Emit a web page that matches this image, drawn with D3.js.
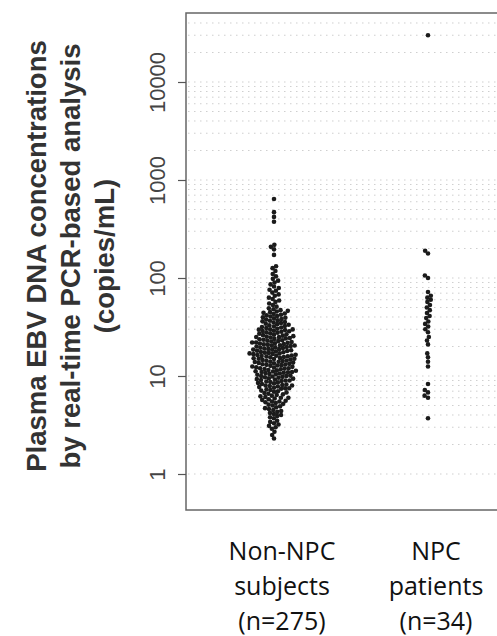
<!DOCTYPE html>
<html>
<head>
<meta charset="utf-8">
<script src="https://cdn.jsdelivr.net/npm/d3@7"></script>
<style>
  body { margin: 0; background: #fff; }
</style>
</head>
<body>
<script>
// categories and labels
var groups = ["Non-NPC", "NPC"];
var groupLabels = [["Non-NPC", "subjects", "(n=275)"], ["NPC", "patients", "(n=34)"]];
var titleLines = ["Plasma EBV DNA concentrations", "by real-time PCR-based analysis", "(copies/mL)"];
var yTicks = [1, 10, 100, 1000, 10000];

// plasma EBV DNA, non-NPC subjects (copies/mL)
var nonNpc = [
  640, 470, 420, 375, 218, 208, 196, 172, 132, 126, 118, 110, 104, 98, 94, 90, 86, 82, 79, 76,
  74, 71, 68, 66, 63, 61, 59, 57, 55, 53, 51, 49, 48,
  47.0, 46.2, 45.5, 44.8, 44.1, 43.5, 42.9, 42.2, 41.6, 41.0,
  40.4, 39.8, 39.3, 38.7, 38.2, 37.7, 37.1, 36.6, 36.1, 35.6,
  35.2, 34.7, 34.2, 33.8, 33.3, 32.9, 32.4, 32.0, 31.6, 31.2,
  30.8, 30.4, 30.0, 29.9, 29.7,
  29.4, 29.0, 28.6, 28.3, 28.0, 27.6, 27.3, 27.0, 26.7, 26.4,
  26.1, 25.8, 25.5, 25.2, 25.0, 24.7, 24.4, 24.2, 23.9, 23.7,
  23.4, 23.2, 22.9, 22.7, 22.5, 22.2, 22.0, 21.8, 21.6, 21.4,
  21.2, 21.0, 20.8, 20.6, 20.4, 20.2, 20.0, 19.8, 19.6, 19.4,
  19.3, 19.1, 18.9, 18.8, 18.6, 18.5, 28.8, 24.9, 22.0, 20.5,
  18.3, 18.1, 18.0, 17.8, 17.6, 17.5, 17.3, 17.2, 17.0, 16.8,
  16.7, 16.5, 16.4, 16.2, 16.1, 15.9, 15.8, 15.6, 15.5, 15.3,
  15.2, 15.0, 14.9, 14.7, 14.6, 14.4, 14.3, 14.2, 14.0, 13.9,
  13.7, 13.6, 13.5, 13.3, 13.2, 13.1, 12.9, 12.8, 12.7, 12.5,
  12.4, 12.3, 12.2, 12.0, 11.9, 11.8, 11.7, 11.5, 11.4, 11.3,
  11.2, 11.1, 11.0, 10.9, 10.8, 10.7, 10.6, 10.5, 10.4, 10.3,
  16.0, 13.0, 17.0, 15.0, 12.0, 14.0, 11.0,
  10.1, 10.0, 9.9, 9.8, 9.7, 9.6, 9.5, 9.4, 9.3, 9.2,
  9.1, 9.0, 8.9, 8.8, 8.7, 8.6, 8.5, 8.4, 8.3, 8.2,
  8.1, 8.0, 7.9, 7.8, 7.7, 7.6, 7.5, 7.4, 7.3, 7.2,
  7.1, 7.0, 6.9, 6.8, 6.7, 6.6, 6.5, 6.4, 9.0, 8.0,
  7.5, 10.0,
  6.3, 6.2, 6.1, 6.0, 5.9, 5.8, 5.7, 5.6, 5.5, 5.4,
  5.3, 5.2, 5.1, 5.0, 4.9, 4.8, 4.7, 4.6, 4.5, 6.0, 5.5,
  4.4, 4.3, 4.2, 4.1, 4.0, 3.9, 3.8, 3.7, 3.5, 3.4, 3.3, 3.2,
  3.1, 3.0, 2.9, 2.7, 2.5, 2.3
];

// plasma EBV DNA, NPC patients (copies/mL)
var npc = [
  30000, 190, 178, 106, 100, 72, 66, 63, 60,
  57, 53, 50, 47, 44, 41, 39, 36, 34, 32, 30, 28,
  25, 23, 21, 17, 15.5, 14, 12.5,
  8.3, 7.2, 6.8, 6.3, 6.0, 3.7
];

var width = 497, height = 636;
var frame = { left: 186, top: 13, right: 540, bottom: 510 };

var svg = d3.select("body").append("svg")
  .attr("width", width)
  .attr("height", height);

// log scale: one decade ~98px
var y = d3.scaleLog()
  .domain([1, 10000])
  .range([474, 82]);

var x = d3.scalePoint()
  .domain(groups)
  .range([274, 428]);

// dotted grid at 1..9 x 10^k
var gridVals = [];
yTicks.forEach(function (t) {
  d3.range(1, 10).forEach(function (m) {
    var v = m * t;
    if (y(v) > frame.top + 2) gridVals.push(v);
  });
});

svg.append("g").selectAll("line")
  .data(gridVals)
  .enter()
  .append("line")
  .attr("x1", frame.left + 2)
  .attr("x2", width)
  .attr("y1", d => y(d))
  .attr("y2", d => y(d))
  .attr("stroke", "#cfcfcf")
  .attr("stroke-width", 1)
  .attr("stroke-dasharray", "1.5,4.5");

// frame
svg.append("rect")
  .attr("x", frame.left)
  .attr("y", frame.top)
  .attr("width", frame.right - frame.left)
  .attr("height", frame.bottom - frame.top)
  .attr("fill", "none")
  .attr("stroke", "#666")
  .attr("stroke-width", 1.5);

// left axis
var leftAxis = d3.axisLeft(y)
  .tickValues(yTicks)
  .tickFormat(d3.format("d"))
  .tickSize(8)
  .tickSizeOuter(0);

var axisG = svg.append("g")
  .attr("transform", `translate(${frame.left}, 0)`)
  .call(leftAxis);
axisG.select(".domain").remove();
axisG.selectAll(".tick line").attr("stroke", "#555").attr("stroke-width", 1.2);
axisG.selectAll(".tick text")
  .attr("font-family", "Liberation Sans, Arial, sans-serif")
  .attr("font-size", "22px")
  .attr("fill", "#444")
  .attr("text-anchor", "middle")
  .attr("dy", null)
  .attr("x", null)
  .attr("transform", "translate(-21, 0) rotate(-90)");

// y title, three rotated lines
var titleG = svg.append("g")
  .attr("transform", "translate(0, 256) rotate(-90)");
titleG.selectAll("text")
  .data(titleLines)
  .enter()
  .append("text")
  .attr("x", 0)
  .attr("y", (d, i) => 46 + i * 34)
  .attr("text-anchor", "middle")
  .attr("font-family", "Liberation Sans, Arial, sans-serif")
  .attr("font-weight", "bold")
  .attr("font-size", "27.5px")
  .attr("fill", "#333")
  .text(d => d);

// beeswarm: place each point (in value order) as close to the centre as it can go
function swarm(values, r) {
  var pts = values.slice().sort((a, b) => a - b).map(v => ({ v: v, y: y(v), dx: 0 }));
  var placed = [];
  pts.forEach(function (p) {
    var near = placed.filter(q => Math.abs(q.y - p.y) < 2 * r);
    var cands = [0];
    near.forEach(function (q) {
      var dx = Math.sqrt(4 * r * r - (q.y - p.y) * (q.y - p.y));
      cands.push(q.dx - dx, q.dx + dx);
    });
    cands.sort((a, b) => Math.abs(a) - Math.abs(b));
    for (var i = 0; i < cands.length; i++) {
      var c = cands[i];
      var ok = near.every(q => (q.dx - c) * (q.dx - c) + (q.y - p.y) * (q.y - p.y) >= 4 * r * r - 1e-6);
      if (ok) { p.dx = c; break; }
    }
    placed.push(p);
  });
  return placed;
}

var series = [nonNpc, npc];
series.forEach(function (vals, gi) {
  var pts = swarm(vals, 2.0);
  svg.append("g").selectAll("circle")
    .data(pts)
    .enter()
    .append("circle")
    .attr("cx", d => x(groups[gi]) + d.dx)
    .attr("cy", d => d.y)
    .attr("r", 2.3)
    .attr("fill", "#1b1b1b");
});

// category labels under the frame
var labG = svg.append("g");
groupLabels.forEach(function (lines, gi) {
  labG.selectAll(null)
    .data(lines)
    .enter()
    .append("text")
    .attr("x", x(groups[gi]) + 8)
    .attr("y", (d, i) => 560 + i * 35)
    .attr("text-anchor", "middle")
    .attr("font-family", "Open Sans, sans-serif")
    .attr("font-size", "25px")
    .attr("fill", "#111")
    .text(d => d);
});
</script>
</body>
</html>
